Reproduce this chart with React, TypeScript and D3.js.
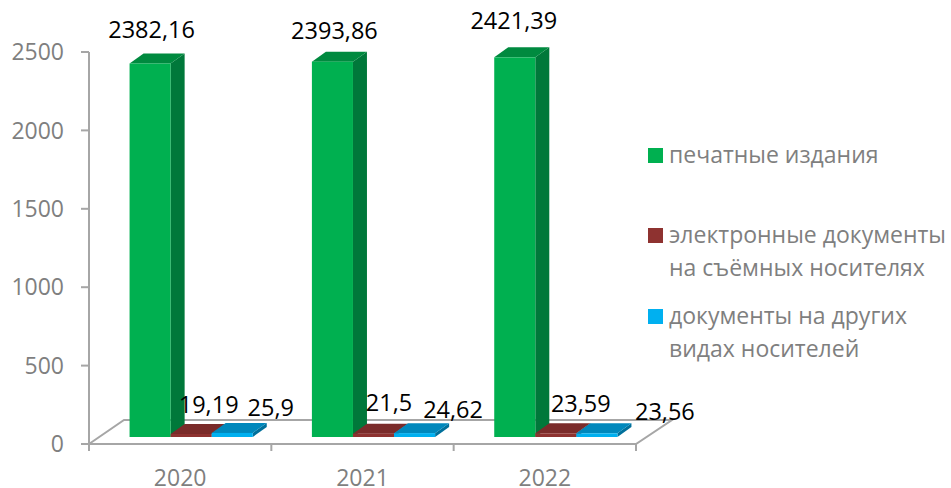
import React from 'react';
import * as d3 from 'd3';

const years = ['2020', '2021', '2022'];
const printed = [2382.16, 2393.86, 2421.39];
const electronic = [19.19, 21.5, 23.59];
const other = [25.9, 24.62, 23.56];
const yTicks = [0, 500, 1000, 1500, 2000, 2500];

const seriesNames = ['printed', 'electronic', 'other'];
const seriesValues = [printed, electronic, other];
const front = ['#00B050', '#8E3230', '#00B0F0'];
const top = ['#008A3F', '#7A2B2A', '#0088BC'];
const side = ['#00783A', '#5E2120', '#00709B'];

const fmt = (v: number) => String(v).replace('.', ',');

// nudges for the data labels, they were placed by hand in the original
const labelDx = [[1.5, 2, -1], [17.5, 15.5, 25], [38.5, 38.5, 68]];
const labelDy = [[-25, -23, -28], [-24, -26, -25], [-21, -19, -17]];
const font = '"Open Sans", sans-serif';
const grey = '#7f7f7f';
const axisGrey = '#a6a6a6';

const App = () => {
  const x = d3.scaleBand().domain(years).range([89, 636]);
  const inner = d3.scaleBand().domain(seriesNames).range([11, x.bandwidth() + 11]).paddingInner(0).paddingOuter(0.72);
  const y = d3.scaleLinear().domain([0, 2500]).range([444, 52]);

  const floorLine = d3.line();
  const barBase = 437;
  const depthX = 14;
  const depthY = 10;
  const h = (v: number) => y(0) - y(v);

  return (
    <svg width={951} height={488} style={{ position: 'absolute', left: 0, top: 0 }}>
      {/* floor */}
      <path
        d={floorLine([[89, 444], [124, 420], [672, 420], [636, 444], [89, 444]]) as string}
        fill="#fff"
        stroke={axisGrey}
        strokeWidth={2}
      />

      {/* axes */}
      <line x1={89} x2={89} y1={y(2500)} y2={451} stroke={axisGrey} strokeWidth={2} />
      {yTicks.map((t) => (
        <line key={t} x1={81} x2={89} y1={y(t)} y2={y(t)} stroke={axisGrey} strokeWidth={2} />
      ))}
      {d3.range(years.length + 1).map((i) => {
        const tx = 89 + x.step() * i;
        return <line key={i} x1={tx} x2={tx} y1={444} y2={451} stroke={axisGrey} strokeWidth={2} />;
      })}

      {yTicks.map((t) => (
        <text key={t} x={64} y={y(t)} dy="0.36em" textAnchor="end" fontFamily={font} fontSize={23} fill={grey}>
          {t}
        </text>
      ))}
      {years.map((yr) => (
        <text key={yr} x={(x(yr) as number) + x.bandwidth() / 2} y={486} textAnchor="middle" fontFamily={font} fontSize={23} fill={grey}>
          {yr}
        </text>
      ))}

      {/* bars, drawn back to front inside each group */}
      {years.map((yr, i) =>
        seriesNames.map((s, k) => {
          const v = seriesValues[k][i];
          const bx = (x(yr) as number) + (inner(s) as number);
          const bw = inner.bandwidth();
          const by = barBase - h(v);
          const topPts = [[bx, by], [bx + depthX, by - depthY], [bx + bw + depthX, by - depthY], [bx + bw, by]];
          const sidePts = [[bx + bw, by], [bx + bw + depthX, by - depthY], [bx + bw + depthX, barBase - depthY], [bx + bw, barBase]];
          return (
            <g key={yr + s}>
              <polygon points={sidePts.join(' ')} fill={side[k]} />
              <polygon points={topPts.join(' ')} fill={top[k]} />
              <rect x={bx} y={by} width={bw} height={h(v)} fill={front[k]} />
            </g>
          );
        })
      )}

      {/* data labels */}
      {years.map((yr, i) =>
        seriesNames.map((s, k) => {
          const v = seriesValues[k][i];
          const cx = (x(yr) as number) + (inner(s) as number) + inner.bandwidth() / 2 + labelDx[k][i];
          const ly = k === 0 ? barBase - h(v) : barBase;
          return (
            <text key={yr + s} x={cx} y={ly + labelDy[k][i]} textAnchor="middle" fontFamily={font} fontSize={23.5} fill="#000">
              {fmt(v)}
            </text>
          );
        })
      )}

      {/* legend */}
      <rect x={648} y={148} width={15} height={15} fill={front[0]} />
      <rect x={648} y={228} width={15} height={15} fill={front[1]} />
      <rect x={648} y={309} width={15} height={15} fill={front[2]} />
      <g fontFamily={font} fontSize={23} fill={grey}>
        <text x={669} y={163}>печатные издания</text>
        <text x={669} y={243}>электронные документы</text>
        <text x={669} y={276}>на съёмных носителях</text>
        <text x={669} y={324}>документы на других</text>
        <text x={669} y={357}>видах носителей</text>
      </g>
    </svg>
  );
};

export default App;
